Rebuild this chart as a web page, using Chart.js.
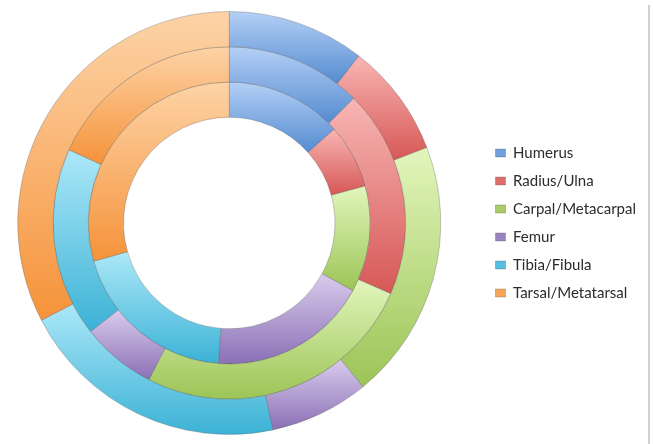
<!DOCTYPE html>
<html>
<head>
<meta charset="utf-8">
<script src="https://cdn.jsdelivr.net/npm/chart.js@4/dist/chart.umd.min.js"></script>
<style>
html, body { margin: 0; padding: 0; background: #fff; }
#wrap { position: relative; width: 653px; height: 444px; }
#wrap:after { content: ''; position: absolute; left: 648px; top: 5px; bottom: 0; width: 2px; background: #d0d0d0; }
</style>
</head>
<body>
<div id="wrap"><canvas id="bones" width="653" height="444"></canvas></div>
<script>
const bones = ['Humerus', 'Radius/Ulna', 'Carpal/Metacarpal', 'Femur', 'Tibia/Fibula', 'Tarsal/Metatarsal']

// share of each bone, in %, outer ring first
const outerRing = [10.5, 8.7, 19.9, 7.6, 20.7, 32.6]
const middleRing = [12.5, 19.1, 26.0, 6.9, 17.4, 18.2]
const innerRing = [13.4, 7.4, 12.2, 18.3, 19.4, 29.4]

// top / bottom shade of every slice, plus a flat one for the legend
const lightShades = ['#b4d0f6', '#f8b6b4', '#e2f6bc', '#dacbec', '#ace8f8', '#fdd3a6']
const darkShades = ['#558bd0', '#d65856', '#9cc456', '#8a70b6', '#3cb2d6', '#f5933a']
const flatShades = ['#6f9fdc', '#dc6e6c', '#a8cc68', '#9b83c2', '#55bfe0', '#f7a55a']

// vertical gradient across each slice, light on top
const shading = {
  id: 'shading',
  // pull the left edge of the plot area out a bit so the rings sit further left
  afterLayout(chart) {
    chart.chartArea.left = -24
    chart.chartArea.width = chart.chartArea.right - chart.chartArea.left
  },
  beforeDatasetsDraw(chart) {
    const ctx = chart.ctx
    chart.data.datasets.forEach((ds, di) => {
      chart.getDatasetMeta(di).data.forEach((arc, i) => {
        const p = arc.getProps(['x', 'y', 'startAngle', 'endAngle', 'innerRadius', 'outerRadius'])
        let top = Infinity
        let bottom = -Infinity
        for (let k = 0; k <= 30; k++) {
          const a = p.startAngle + (p.endAngle - p.startAngle) * k / 30
          for (const r of [p.innerRadius, p.outerRadius]) {
            const py = p.y + Math.sin(a) * r
            top = Math.min(top, py)
            bottom = Math.max(bottom, py)
          }
        }
        const g = ctx.createLinearGradient(0, top, 0, bottom)
        g.addColorStop(0, lightShades[i])
        g.addColorStop(1, darkShades[i])
        arc.options.backgroundColor = g
      })
    })
  }
}

const ring = (data) => ({
  data: data,
  backgroundColor: flatShades,
  borderColor: 'rgba(80,80,80,0.3)',
  borderWidth: 1
})

new Chart(document.getElementById('bones'), {
  type: 'doughnut',
  data: {
    labels: bones,
    datasets: [ring(outerRing), ring(middleRing), ring(innerRing)]
  },
  options: {
    responsive: false,
    animation: false,
    cutout: '50%',
    layout: { padding: { left: 0, right: 7, top: 11, bottom: 9 } },
    plugins: {
      legend: {
        position: 'right',
        labels: {
          boxWidth: 10,
          boxHeight: 8,
          padding: 13,
          color: '#2b2b2b',
          font: { family: 'Lato', size: 15 }
        }
      },
      tooltip: { enabled: false }
    }
  },
  plugins: [shading]
})
</script>
</body>
</html>
